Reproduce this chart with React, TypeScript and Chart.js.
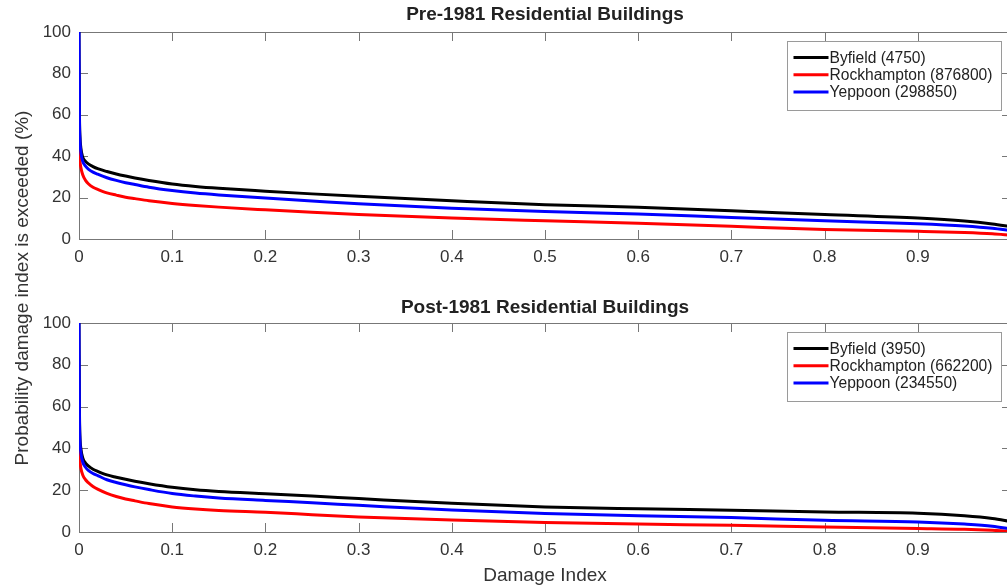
import React, { useEffect, useRef } from 'react';
import { Chart, registerables } from 'chart.js';

Chart.register(...registerables);

const FONT = "Arial, 'Liberation Sans', Helvetica, sans-serif";
const TEXT_COLOR = '#333333';
const AXIS_COLOR = '#777777';

// ---------- data ----------
const damageIndex = [0, 0.0005, 0.001, 0.002, 0.004, 0.007, 0.01, 0.015, 0.02, 0.03, 0.04, 0.05, 0.06, 0.075, 0.1, 0.125, 0.15, 0.2, 0.25, 0.3, 0.4, 0.5, 0.6, 0.7, 0.8, 0.9, 0.95, 0.98, 1.0];

const preByfield = [100, 60, 50, 44, 39.5, 37.5, 36.3, 35.0, 34.0, 32.6, 31.4, 30.4, 29.5, 28.3, 26.6, 25.4, 24.5, 23.1, 21.8, 20.6, 18.5, 16.6, 15.3, 13.6, 11.8, 10.1, 8.7, 7.3, 6.0];
const preRockhampton = [43, 39.5, 37.5, 34.5, 31, 28.3, 26.7, 25.0, 24.0, 22.3, 21.2, 20.2, 19.5, 18.5, 17.2, 16.2, 15.4, 14.1, 12.9, 11.8, 10.1, 8.8, 7.6, 6.1, 4.6, 3.7, 3.1, 2.5, 1.8];
const preYeppoon = [100, 58, 48, 42, 37.5, 35.2, 33.8, 32.3, 31.3, 29.6, 28.3, 27.2, 26.3, 25.0, 23.4, 22.2, 21.3, 19.8, 18.4, 17.0, 14.9, 13.3, 12.1, 10.4, 8.8, 7.4, 6.3, 5.2, 4.0];

const postByfield = [100, 58, 46, 40, 35.5, 33.0, 31.6, 30.0, 29.0, 27.3, 26.2, 25.2, 24.3, 23.1, 21.4, 20.2, 19.4, 18.3, 17.2, 16.0, 13.7, 12.0, 11.1, 10.4, 9.6, 9.0, 7.8, 6.5, 5.0];
const postRockhampton = [40.8, 36.5, 34, 30.5, 27.3, 25.0, 23.6, 21.8, 20.5, 18.5, 17.0, 15.8, 14.9, 13.6, 12.0, 11.0, 10.3, 9.4, 8.3, 7.2, 5.7, 4.6, 3.8, 3.2, 2.4, 1.7, 1.3, 0.8, 0.3];
const postYeppoon = [100, 55, 44, 38, 33.5, 31.0, 29.5, 28.0, 27.0, 25.0, 23.7, 22.6, 21.6, 20.3, 18.4, 17.2, 16.3, 15.1, 14.0, 12.8, 10.5, 8.9, 7.8, 6.9, 5.6, 4.8, 3.8, 2.8, 1.5];

const preLabels = ['Byfield (4750)', 'Rockhampton (876800)', 'Yeppoon (298850)'];
const postLabels = ['Byfield (3950)', 'Rockhampton (662200)', 'Yeppoon (234550)'];
const seriesColors = ['#000000', '#ff0000', '#0000ff'];

const xTickLabels = ['0', '0.1', '0.2', '0.3', '0.4', '0.5', '0.6', '0.7', '0.8', '0.9', ''];
const yTickLabels = ['0', '20', '40', '60', '80', '100'];

const preTitle = 'Pre-1981 Residential Buildings';
const postTitle = 'Post-1981 Residential Buildings';
const xAxisLabel = 'Damage Index';
const yAxisLabel = 'Probability damage index is exceeded (%)';

// ---------- plugins ----------
const matlabAxes = {
  id: 'matlabAxes',
  beforeDatasetsDraw(chart: any) {
    const { ctx, chartArea: a, scales } = chart;
    const L = 9;
    ctx.save();
    ctx.strokeStyle = AXIS_COLOR;
    ctx.lineWidth = 1;
    ctx.beginPath();
    scales.x.ticks.forEach((t: any) => {
      const px = Math.round(scales.x.getPixelForValue(t.value)) + 0.5;
      ctx.moveTo(px, a.bottom);
      ctx.lineTo(px, a.bottom - L);
      ctx.moveTo(px, a.top);
      ctx.lineTo(px, a.top + L);
    });
    scales.y.ticks.forEach((t: any) => {
      const py = Math.round(scales.y.getPixelForValue(t.value)) + 0.5;
      ctx.moveTo(a.left, py);
      ctx.lineTo(a.left + L, py);
      ctx.moveTo(a.right, py);
      ctx.lineTo(a.right - L, py);
    });
    ctx.stroke();
    ctx.strokeRect(Math.round(a.left) + 0.5, Math.round(a.top) + 0.5, Math.round(a.right - a.left), Math.round(a.bottom - a.top));
    ctx.restore();
  },
};

const boxLegend = {
  id: 'boxLegend',
  afterDraw(chart: any) {
    const { ctx, chartArea: a } = chart;
    const w = 214;
    const h = 69;
    const x = Math.round(a.right - 10 - w) + 0.5;
    const y = Math.round(a.top + 9) + 0.5;
    ctx.save();
    ctx.fillStyle = '#ffffff';
    ctx.fillRect(x, y, w, h);
    ctx.strokeStyle = '#9a9a9a';
    ctx.lineWidth = 1;
    ctx.strokeRect(x, y, w, h);
    ctx.font = `15.6px ${FONT}`;
    ctx.textBaseline = 'middle';
    ctx.textAlign = 'left';
    chart.data.datasets.forEach((ds: any, i: number) => {
      const cy = y + 16 + i * 17.3;
      ctx.strokeStyle = ds.borderColor;
      ctx.lineWidth = 3;
      ctx.beginPath();
      ctx.moveTo(x + 6, cy);
      ctx.lineTo(x + 41, cy);
      ctx.stroke();
      ctx.fillStyle = '#222222';
      ctx.fillText(ds.label, x + 42, cy + 1);
    });
    ctx.restore();
  },
};

const sharedYLabel = {
  id: 'sharedYLabel',
  afterDraw(chart: any, _args: any, opts: any) {
    if (!opts || !opts.text) return;
    const { ctx } = chart;
    ctx.save();
    ctx.translate(opts.x, opts.y);
    ctx.rotate(-Math.PI / 2);
    ctx.font = `19px ${FONT}`;
    ctx.fillStyle = TEXT_COLOR;
    ctx.textAlign = 'center';
    ctx.textBaseline = 'middle';
    ctx.fillText(opts.text, 0, 0);
    ctx.restore();
  },
};

function buildConfig(panel: 'pre' | 'post'): any {
  const series = panel === 'pre' ? [preByfield, preRockhampton, preYeppoon] : [postByfield, postRockhampton, postYeppoon];
  const labels = panel === 'pre' ? preLabels : postLabels;
  const order = [2, 1, 0];
  const datasets = series.map((vals, i) => ({
    label: labels[i],
    data: damageIndex.map((x, j) => ({ x, y: vals[j] })),
    borderColor: seriesColors[i],
    backgroundColor: seriesColors[i],
    borderWidth: 3,
    pointRadius: 0,
    fill: false,
    cubicInterpolationMode: 'monotone',
    order: order[i],
  }));

  const isPre = panel === 'pre';
  return {
    type: 'line',
    data: { datasets },
    plugins: [matlabAxes, boxLegend, sharedYLabel],
    options: {
      responsive: false,
      animation: false,
      events: [],
      layout: {
        padding: isPre
          ? { left: 0, right: 9, top: 3.6, bottom: 308 }
          : { left: 0, right: 9, top: 296.6, bottom: 0 },
      },
      plugins: {
        legend: { display: false },
        tooltip: { enabled: false },
        title: {
          display: true,
          text: isPre ? preTitle : postTitle,
          fullSize: false,
          color: '#222222',
          font: { family: FONT, size: 19, weight: 'bold', lineHeight: 1.2 },
          padding: isPre ? { top: 0, bottom: 5.6 } : { top: 0, bottom: 3.6 },
        },
        sharedYLabel: isPre ? { text: '' } : { text: yAxisLabel, x: 23, y: 288 },
      },
      scales: {
        x: {
          type: 'linear',
          min: 0,
          max: 1,
          grid: { display: false, drawTicks: false, tickLength: 0 },
          border: { display: false },
          ticks: {
            stepSize: 0.1,
            autoSkip: false,
            maxRotation: 0,
            padding: 8,
            color: TEXT_COLOR,
            font: { family: FONT, size: 17 },
            callback: (_v: any, i: number) => xTickLabels[i] ?? '',
          },
          title: isPre
            ? { display: false }
            : {
                display: true,
                text: xAxisLabel,
                color: TEXT_COLOR,
                font: { family: FONT, size: 19 },
                padding: { top: 0, bottom: 0 },
              },
          afterFit: (scale: any) => {
            scale.height = isPre ? 40 : 55;
          },
        },
        y: {
          min: 0,
          max: 100,
          grid: { display: false, drawTicks: false, tickLength: 0 },
          border: { display: false },
          ticks: {
            stepSize: 20,
            padding: 8,
            color: TEXT_COLOR,
            font: { family: FONT, size: 17 },
            callback: (_v: any, i: number) => yTickLabels[i] ?? '',
          },
          afterFit: (scale: any) => {
            scale.width = 79;
          },
        },
      },
    },
  };
}

export default function App() {
  const topRef = useRef<HTMLCanvasElement | null>(null);
  const botRef = useRef<HTMLCanvasElement | null>(null);

  useEffect(() => {
    const c1 = new Chart(topRef.current as HTMLCanvasElement, buildConfig('pre'));
    const c2 = new Chart(botRef.current as HTMLCanvasElement, buildConfig('post'));
    return () => {
      c1.destroy();
      c2.destroy();
    };
  }, []);

  const canvasStyle: React.CSSProperties = { position: 'absolute', left: 0, top: 0, width: 1020, height: 587 };
  return (
    <div style={{ position: 'absolute', left: 0, top: 0, width: 1007, height: 587, overflow: 'hidden', background: '#ffffff' }}>
      <canvas ref={topRef} width={1020} height={587} style={canvasStyle} />
      <canvas ref={botRef} width={1020} height={587} style={canvasStyle} />
    </div>
  );
}
